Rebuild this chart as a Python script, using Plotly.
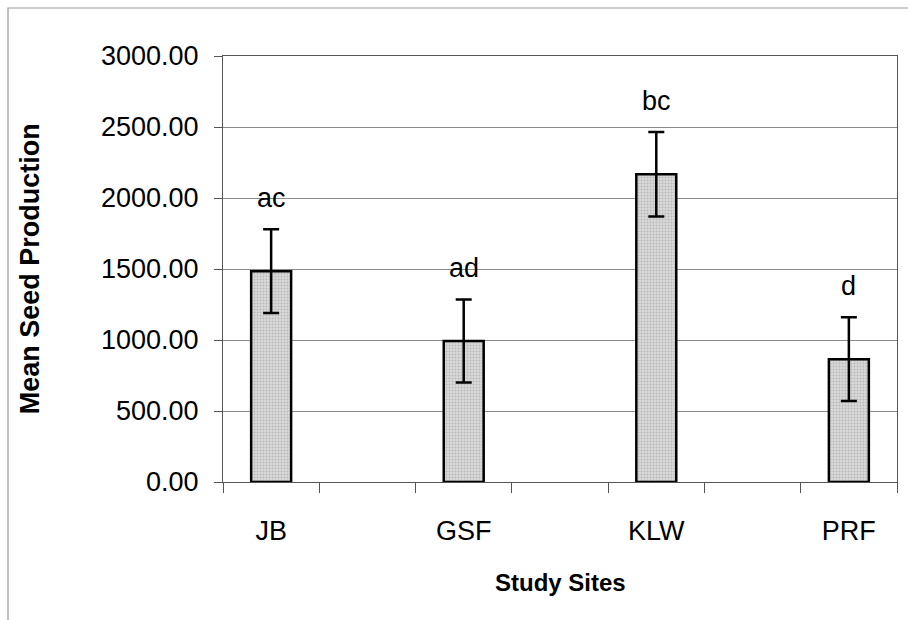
import plotly.graph_objects as go

# ---- data ----
sites = ["JB", "GSF", "KLW", "PRF"]
mean_seed = [1485, 993, 2167, 865]
err = [295, 293, 297, 295]
letters = ["ac", "ad", "bc", "d"]
y_ticks = [0, 500, 1000, 1500, 2000, 2500, 3000]

FONT = "Arial, Liberation Sans"

# category order with blank spacer categories between sites
order = []
for i, s in enumerate(sites):
    order.append(s)
    if i < len(sites) - 1:
        order.append(" " * (i + 1))

fig = go.Figure()
fig.add_trace(go.Bar(
    x=sites, y=mean_seed,
    width=0.415,
    marker=dict(
        color="#d4d4d4",
        line=dict(color="black", width=2.5),
        pattern=dict(shape=".", fgcolor="#9a9a9a", bgcolor="#d8d8d8", size=3, solidity=0.35),
    ),
    error_y=dict(type="data", array=err, visible=True, color="black", thickness=2.5, width=8),
    showlegend=False,
))

for s, v, e, t in zip(sites, mean_seed, err, letters):
    fig.add_annotation(x=s, y=v + e + 100, text=t, showarrow=False, xref="x", yref="y",
                       yanchor="bottom", font=dict(family=FONT, size=27, color="black"))

fig.add_annotation(x=0.5, xref="paper", y=-0.235, yref="paper", text="<b>Study Sites</b>", showarrow=False,
                   xanchor="center", yanchor="middle",
                   font=dict(family=FONT, size=24, color="black"))
fig.add_annotation(x=-0.286, xref="paper", y=0.5, yref="paper", text="<b>Mean Seed Production</b>",
                   showarrow=False, textangle=-90, xanchor="center", yanchor="middle",
                   font=dict(family=FONT, size=27, color="black"))

# outer chart border (extends off the right/bottom of the image)
fig.add_shape(type="rect", xref="paper", yref="paper",
              x0=(8 - 223) / 674, x1=1.3, y0=-0.6, y1=1 + (56 - 8) / 426,
              line=dict(color="#9a9a9a", width=1.2), layer="below")

fig.update_layout(
    width=908, height=620,
    margin=dict(l=223, r=11, t=56, b=138),
    paper_bgcolor="white", plot_bgcolor="white",
    font=dict(family=FONT, size=27, color="black"),
    bargap=0.5,
)
fig.update_xaxes(
    type="category", categoryorder="array", categoryarray=order,
    tickson="boundaries", ticks="outside", ticklen=10, tickcolor="#555", tickwidth=1,
    showline=True, linecolor="#555", linewidth=1,
    mirror=True, showgrid=False,
    ticklabelstandoff=25,
    tickfont=dict(family=FONT, size=27),
)
fig.update_yaxes(
    range=[0, 3000], tickvals=y_ticks, tickformat=".2f",
    ticks="outside", ticklen=8, tickcolor="#555", tickwidth=1,
    showline=True, linecolor="#555", linewidth=1, mirror=True,
    showgrid=True, gridcolor="#8a8a8a", gridwidth=1,
    ticklabelstandoff=10,
    tickfont=dict(family=FONT, size=27),
    zeroline=False,
)

fig.write_html("out.html")
